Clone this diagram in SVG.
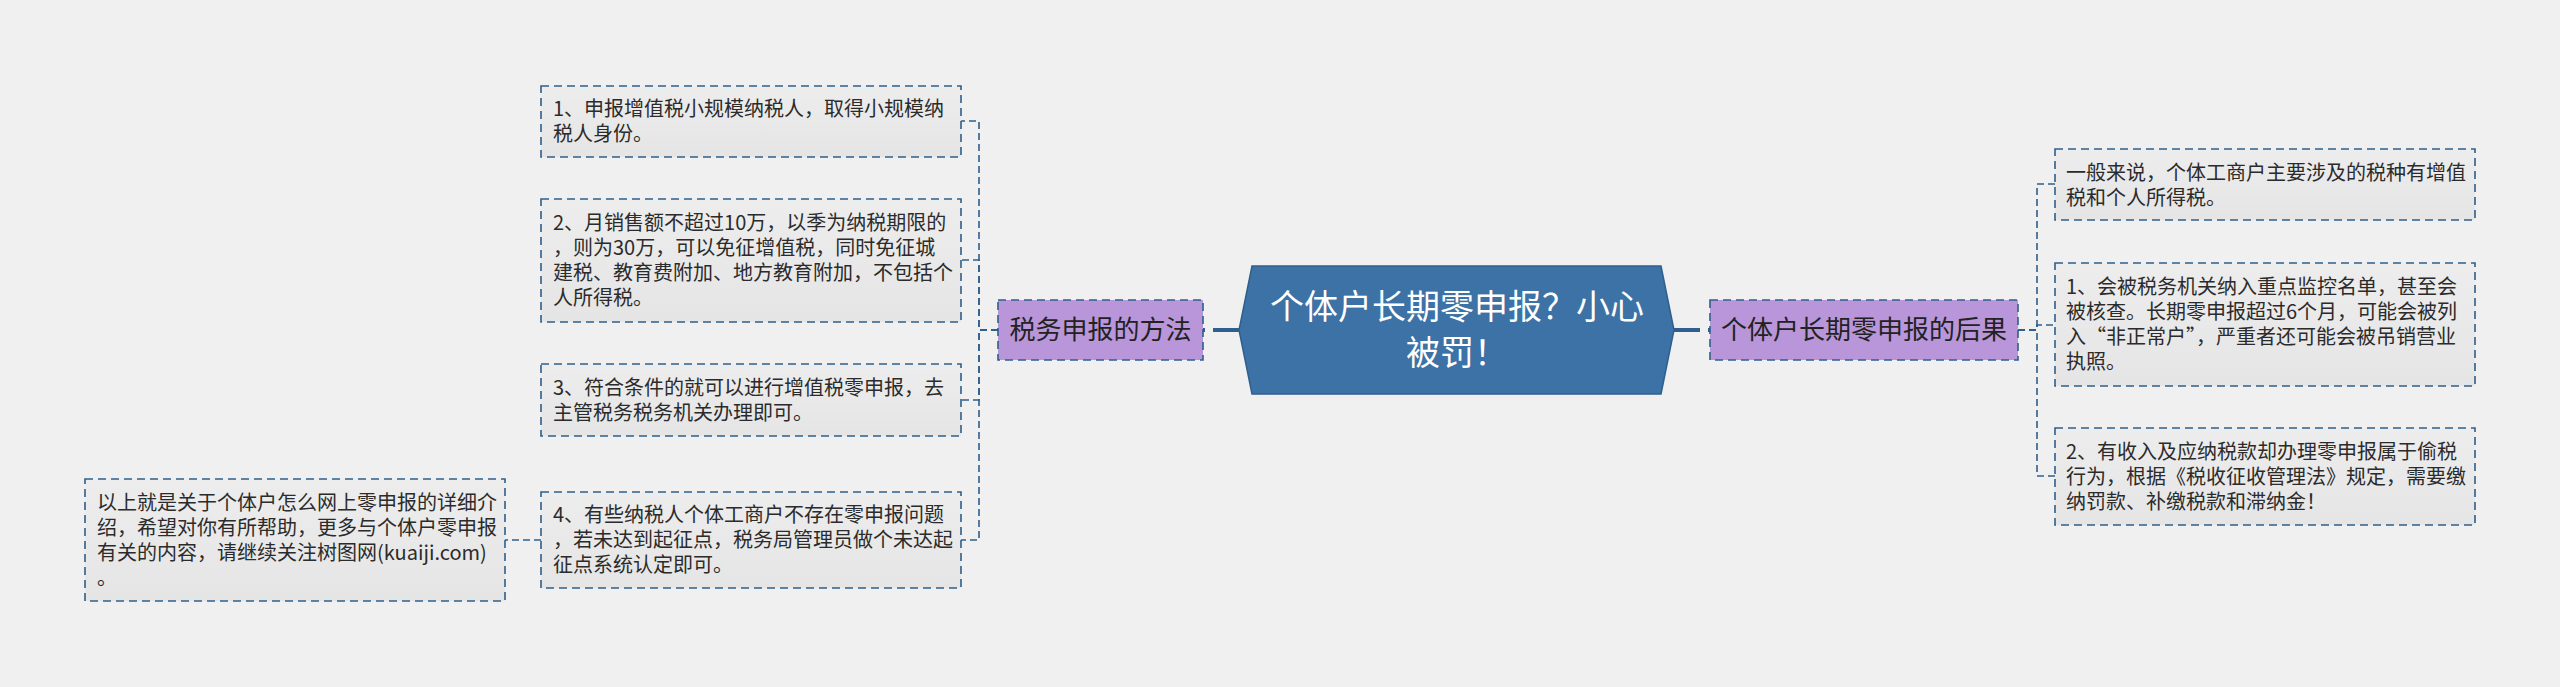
<svg xmlns="http://www.w3.org/2000/svg" width="2560" height="687" viewBox="0 0 2560 687">
<defs>
<linearGradient id="g" x1="0" y1="0" x2="0" y2="1">
<stop offset="0" stop-color="#ededed"/>
<stop offset="1" stop-color="#e5e5e5"/>
</linearGradient>
</defs>
<style>
.bg{fill:#f0f0f0}
.box{fill:url(#g);stroke:#2f5f8a;stroke-width:1.6;stroke-dasharray:8 5}
.sub{fill:#b896d9;stroke:#2f5f8a;stroke-width:1.6;stroke-dasharray:8 5}
.hex{fill:#3c72a5;stroke:#2f5f8e;stroke-width:1.5}
.t{font-family:"PingFang SC","Noto Sans CJK SC",sans-serif;font-size:20px;fill:#2b2b2b}
.st{font-family:"PingFang SC","Noto Sans CJK SC",sans-serif;font-size:26px;fill:#222;text-anchor:middle}
.ct{font-family:"PingFang SC","Noto Sans CJK SC",sans-serif;font-size:34px;fill:#ffffff;text-anchor:middle}
.c{fill:none;stroke:#2f5f8a;stroke-width:1.6;stroke-dasharray:7 4}
.m{fill:none;stroke:#2f5f8e;stroke-width:4;stroke-dasharray:26 8}
</style>
<rect class="bg" x="0" y="0" width="2560" height="687"/>
<g id="connectors">
<path class="m" d="M1239,330 H1203"/>
<path class="m" d="M1674,330 H1710"/>
<path class="c" d="M998,330 H979 V121 H961"/>
<path class="c" d="M998,330 H979 V260 H961"/>
<path class="c" d="M998,330 H979 V400 H961"/>
<path class="c" d="M998,330 H979 V540 H961"/>
<path class="c" d="M541,540 H505"/>
<path class="c" d="M2018,330 H2037 V184 H2055"/>
<path class="c" d="M2018,330 H2037 V325 H2055"/>
<path class="c" d="M2018,330 H2037 V476 H2055"/>
</g>
<g id="center">
<polygon class="hex" points="1252,266 1661,266 1674,330 1661,394 1252,394 1239,330"/>
<text class="ct" x="1457" y="319">个体户长期零申报？小心</text>
<text class="ct" x="1457" y="365">被罚！</text>
</g>
<g id="method">
<rect class="sub" x="998" y="300" width="205" height="60"/>
<text class="st" x="1100.5" y="339">税务申报的方法</text>
</g>
<g id="result">
<rect class="sub" x="1710" y="300" width="308" height="60"/>
<text class="st" x="1864" y="339">个体户长期零申报的后果</text>
</g>
<g id="m1">
<rect class="box" x="541" y="86" width="420" height="71"/>
<text class="t" x="553" y="115.5">1、申报增值税小规模纳税人，取得小规模纳</text>
<text class="t" x="553" y="140.5">税人身份。</text>
</g>
<g id="m2">
<rect class="box" x="541" y="199" width="420" height="123"/>
<text class="t" x="553" y="230">2、月销售额不超过10万，以季为纳税期限的</text>
<text class="t" x="553" y="255">，则为30万，可以免征增值税，同时免征城</text>
<text class="t" x="553" y="280">建税、教育费附加、地方教育附加，不包括个</text>
<text class="t" x="553" y="305">人所得税。</text>
</g>
<g id="m3">
<rect class="box" x="541" y="364" width="420" height="72"/>
<text class="t" x="553" y="395">3、符合条件的就可以进行增值税零申报，去</text>
<text class="t" x="553" y="420">主管税务税务机关办理即可。</text>
</g>
<g id="m4">
<rect class="box" x="541" y="492" width="420" height="96"/>
<text class="t" x="553" y="522">4、有些纳税人个体工商户不存在零申报问题</text>
<text class="t" x="553" y="547">，若未达到起征点，税务局管理员做个未达起</text>
<text class="t" x="553" y="572">征点系统认定即可。</text>
</g>
<g id="summary">
<rect class="box" x="85" y="479" width="420" height="122"/>
<text class="t" x="97" y="509.5">以上就是关于个体户怎么网上零申报的详细介</text>
<text class="t" x="97" y="534.5">绍，希望对你有所帮助，更多与个体户零申报</text>
<text class="t" x="97" y="559.5">有关的内容，请继续关注树图网(kuaiji.com)</text>
<text class="t" x="97" y="584.5">。</text>
</g>
<g id="r1">
<rect class="box" x="2055" y="149" width="420" height="71"/>
<text class="t" x="2066" y="179.5">一般来说，个体工商户主要涉及的税种有增值</text>
<text class="t" x="2066" y="204.5">税和个人所得税。</text>
</g>
<g id="r2">
<rect class="box" x="2055" y="263" width="420" height="123"/>
<text class="t" x="2066" y="294">1、会被税务机关纳入重点监控名单，甚至会</text>
<text class="t" x="2066" y="319">被核查。长期零申报超过6个月，可能会被列</text>
<text class="t" x="2066" y="344">入“非正常户”，严重者还可能会被吊销营业</text>
<text class="t" x="2066" y="369">执照。</text>
</g>
<g id="r3">
<rect class="box" x="2055" y="428" width="420" height="97"/>
<text class="t" x="2066" y="458.5">2、有收入及应纳税款却办理零申报属于偷税</text>
<text class="t" x="2066" y="483.5">行为，根据《税收征收管理法》规定，需要缴</text>
<text class="t" x="2066" y="508.5">纳罚款、补缴税款和滞纳金！</text>
</g>
</svg>
